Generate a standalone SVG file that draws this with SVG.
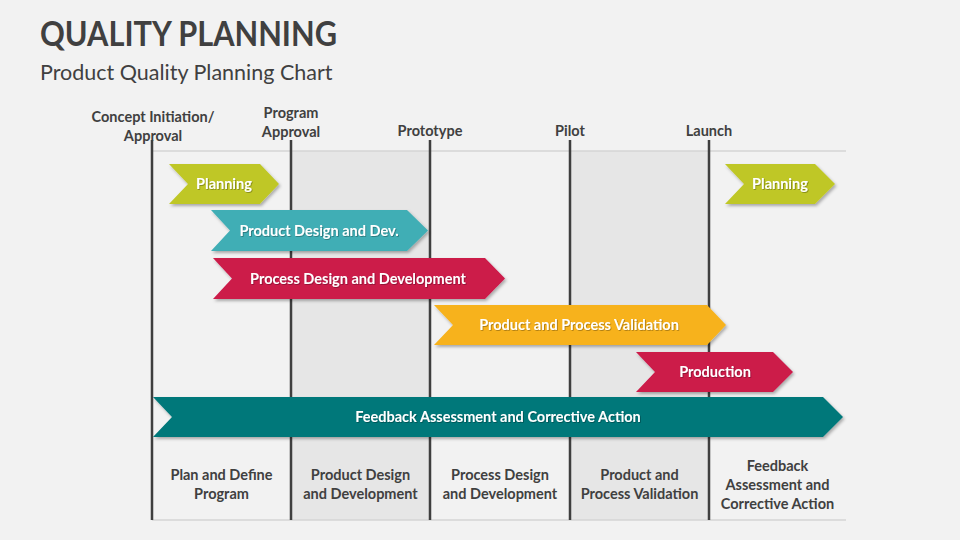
<svg xmlns="http://www.w3.org/2000/svg" width="960" height="540" viewBox="0 0 960 540">
<defs>
<filter id="sh" x="-10%" y="-20%" width="120%" height="150%">
<feDropShadow dx="1.5" dy="2" stdDeviation="1.5" flood-color="#000" flood-opacity="0.3"/>
</filter>
<filter id="ts" x="-5%" y="-20%" width="110%" height="150%">
<feDropShadow dx="0.8" dy="0.8" stdDeviation="0.6" flood-color="#000" flood-opacity="0.35"/>
</filter>
</defs>
<style>
.bg{fill:#f2f2f2}
.col{fill:#f2f2f2}
.colg{fill:#e6e6e6}
.vl{stroke:#3f3f3f;stroke-width:2.5}
.hl{stroke:#d4d4d4;stroke-width:1.5}
.lab{font-family:Lato,"Liberation Sans",sans-serif;font-weight:bold;font-size:14.5px;fill:#404040;text-anchor:middle}
.at{font-family:Lato,"Liberation Sans",sans-serif;font-weight:bold;font-size:14.5px;fill:#ffffff;text-anchor:middle}
.title{font-family:Lato,"Liberation Sans",sans-serif;font-weight:bold;font-size:35px;fill:#404040}
.sub{font-family:Lato,"Liberation Sans",sans-serif;font-size:21.5px;fill:#404040}
</style>
<rect class="bg" x="0" y="0" width="960" height="540"/>
<g id="title">
<text class="title" x="40" y="46" textLength="297" lengthAdjust="spacingAndGlyphs">QUALITY PLANNING</text>
<text class="sub" x="40" y="80">Product Quality Planning Chart</text>
</g>
<g id="grid">
<rect class="col" x="152" y="151" width="694" height="369"/>
<rect class="colg" x="291" y="151" width="139" height="369"/>
<rect class="colg" x="570" y="151" width="139" height="369"/>
<line class="hl" x1="152" y1="151" x2="846" y2="151"/>
<line class="hl" x1="152" y1="520" x2="846" y2="520"/>
<line class="vl" x1="152" y1="140" x2="152" y2="520"/>
<line class="vl" x1="291" y1="140" x2="291" y2="520"/>
<line class="vl" x1="430" y1="140" x2="430" y2="520"/>
<line class="vl" x1="570" y1="140" x2="570" y2="520"/>
<line class="vl" x1="709" y1="140" x2="709" y2="520"/>
</g>
<g id="milestones">
<text class="lab" x="153" y="122">Concept Initiation/</text>
<text class="lab" x="153" y="141">Approval</text>
<text class="lab" x="291" y="118">Program</text>
<text class="lab" x="291" y="137">Approval</text>
<text class="lab" x="430" y="136">Prototype</text>
<text class="lab" x="570" y="136">Pilot</text>
<text class="lab" x="709" y="136">Launch</text>
</g>
<g id="planning1" filter="url(#sh)">
<polygon points="169,164 260,164 279,184 260,204 169,204 188,184" fill="#bfc726"/>
<text class="at" x="224" y="189" filter="url(#ts)">Planning</text>
</g>
<g id="planning2" filter="url(#sh)">
<polygon points="725,164 815,164 835,184 815,204 725,204 744,184" fill="#bfc726"/>
<text class="at" x="780" y="189" filter="url(#ts)">Planning</text>
</g>
<g id="product-design" filter="url(#sh)">
<polygon points="211,210 407,210 428,230.5 407,251 211,251 230,230.5" fill="#40aeb5"/>
<text class="at" x="319" y="235.5" filter="url(#ts)">Product Design and Dev.</text>
</g>
<g id="process-design" filter="url(#sh)">
<polygon points="213,258 485,258 505,278.5 485,299 213,299 232,278.5" fill="#cc1a4a"/>
<text class="at" x="358" y="283.5" filter="url(#ts)">Process Design and Development</text>
</g>
<g id="validation" filter="url(#sh)">
<polygon points="434,305 707,305 726,325 707,345 434,345 453,325" fill="#f7b21b"/>
<text class="at" x="579" y="330" filter="url(#ts)">Product and Process Validation</text>
</g>
<g id="production" filter="url(#sh)">
<polygon points="636,352 773,352 793,372 773,392 636,392 655,372" fill="#cc1a4a"/>
<text class="at" x="715" y="377" filter="url(#ts)">Production</text>
</g>
<g id="feedback" filter="url(#sh)">
<polygon points="153,397 823,397 843,417 823,437 153,437 172,417" fill="#00787a"/>
<text class="at" x="498" y="422" filter="url(#ts)">Feedback Assessment and Corrective Action</text>
</g>
<g id="phases">
<text class="lab" x="221.5" y="480">Plan and Define</text>
<text class="lab" x="221.5" y="499">Program</text>
<text class="lab" x="360.5" y="480">Product Design</text>
<text class="lab" x="360.5" y="499">and Development</text>
<text class="lab" x="500" y="480">Process Design</text>
<text class="lab" x="500" y="499">and Development</text>
<text class="lab" x="639.5" y="480">Product and</text>
<text class="lab" x="639.5" y="499">Process Validation</text>
<text class="lab" x="777.5" y="471">Feedback</text>
<text class="lab" x="777.5" y="490">Assessment and</text>
<text class="lab" x="777.5" y="509">Corrective Action</text>
</g>
<g id="connectors"></g>
</svg>
